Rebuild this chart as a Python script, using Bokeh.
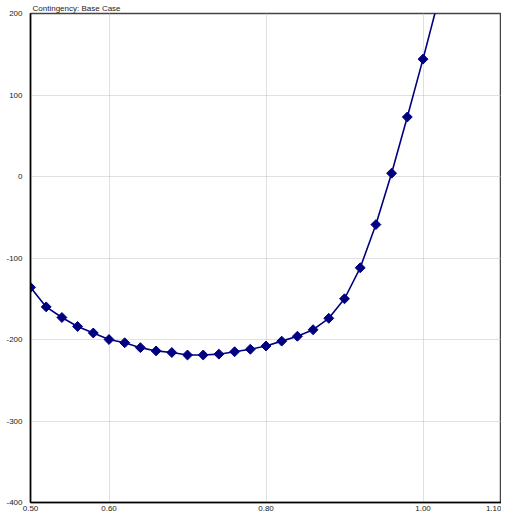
import math
from bokeh.plotting import figure
from bokeh.models import FixedTicker, Range1d, NumeralTickFormatter
from bokeh.embed import file_html
from bokeh.resources import INLINE

# data
x_vals = [0.50, 0.52, 0.54, 0.56, 0.58, 0.60, 0.62, 0.64, 0.66, 0.68, 0.70,
          0.72, 0.74, 0.76, 0.78, 0.80, 0.82, 0.84, 0.86, 0.88, 0.90, 0.92,
          0.94, 0.96, 0.98, 1.00, 1.02]
y_vals = [-136, -160, -173, -184, -192, -200, -204, -210, -214, -216, -219,
          -219, -218, -215, -212, -208, -202, -196, -188, -174, -150, -112,
          -59, 4, 73, 144, 218]
x_ticks = [0.50, 0.60, 0.80, 1.00, 1.10]
y_ticks = [-400, -300, -200, -100, 0, 100, 200]
title_text = "Contingency:  Base Case"

p = figure(width=501, height=513, output_backend="svg", toolbar_location=None,
           x_range=Range1d(0.5, 1.1), y_range=Range1d(-400, 200),
           min_border_left=30, min_border_right=0, min_border_top=0,
           min_border_bottom=0)

p.title.text = title_text
p.title.text_font = "Liberation Sans"
p.title.text_font_size = "8px"
p.title.text_font_style = "normal"
p.title.offset = 2
p.title.standoff = 2
p.title.text_color = "#222222"

p.line(x_vals, y_vals, line_color="#000080", line_width=1.6)
p.scatter(x_vals, y_vals, marker="square", angle=math.pi / 4, size=7,
          fill_color="#000080", line_color="#000080")

for ax in (p.xaxis[0], p.yaxis[0]):
    ax.axis_line_color = "black"
    ax.axis_line_width = 1.5
    ax.major_tick_line_color = None
    ax.minor_tick_line_color = None
    ax.major_tick_out = 0
    ax.major_tick_in = 0
    ax.minor_tick_out = 0
    ax.minor_tick_in = 0
    ax.axis_label_standoff = 0
    ax.major_label_text_font = "Liberation Sans"
    ax.major_label_text_font_size = "8px"
    ax.major_label_text_color = "#222222"

p.xaxis.ticker = FixedTicker(ticks=x_ticks)
p.xaxis.formatter = NumeralTickFormatter(format="0.00")
p.xaxis.major_label_standoff = 3
p.yaxis.ticker = FixedTicker(ticks=y_ticks)
p.yaxis.formatter = NumeralTickFormatter(format="0")
p.yaxis.major_label_standoff = 8

p.xgrid.ticker = FixedTicker(ticks=[0.6, 0.8, 1.0])
p.ygrid.ticker = FixedTicker(ticks=[-300, -200, -100, 0, 100])
for g in (p.xgrid[0], p.ygrid[0]):
    g.grid_line_color = "#c0c0c0"
    g.grid_line_dash = "1 1"
    g.grid_line_width = 1

p.outline_line_color = "#444444"
p.outline_line_width = 1.5
p.background_fill_color = "white"
p.border_fill_color = "white"

open("out.html", "w").write(file_html(p, INLINE))
